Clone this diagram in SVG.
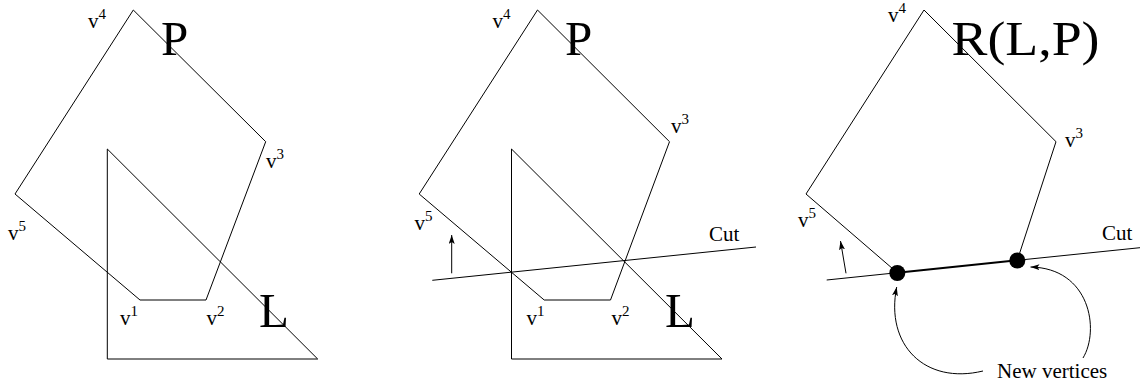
<svg xmlns="http://www.w3.org/2000/svg" width="1140" height="384" viewBox="0 0 1140 384">
<style>
.ln{fill:none;stroke:#000;stroke-width:1}
.t{font-family:"Liberation Serif","Times New Roman",serif;fill:#000}
.vl{font-size:21px}
.sup{font-size:15px}
.big{font-size:49px}
.cut{font-size:21px}
</style>
<defs>
<marker id="ah" markerUnits="userSpaceOnUse" markerWidth="10" markerHeight="8" refX="9" refY="3" orient="auto">
<path d="M0,0 L9,3 L0,6 L2,3 Z" fill="#000"/>
</marker>
</defs>
<rect width="1140" height="384" fill="#fff"/>

<g id="panel1">
<g id="P1"><polygon class="ln" points="133.3,10 265.7,141.7 206,300 140,300 15,194"/></g>
<g id="L1"><polygon class="ln" points="107.3,149 107.3,359 317.7,359"/></g>
<text class="t big" x="161" y="55">P</text>
<text class="t big" x="259" y="327">L</text>
<text class="t vl" x="88" y="28">v<tspan class="sup" dy="-9">4</tspan></text>
<text class="t vl" x="266" y="168">v<tspan class="sup" dy="-9">3</tspan></text>
<text class="t vl" x="8" y="240">v<tspan class="sup" dy="-9">5</tspan></text>
<text class="t vl" x="120" y="325">v<tspan class="sup" dy="-9">1</tspan></text>
<text class="t vl" x="206.5" y="325">v<tspan class="sup" dy="-9">2</tspan></text>
</g>

<g id="panel2">
<g id="P2"><polygon class="ln" points="537.5,10 669.5,141.7 610.5,300 544.2,300 419.2,194"/></g>
<g id="L2"><polygon class="ln" points="511.5,149 511.5,359 722,359"/></g>
<text class="t big" x="565" y="55">P</text>
<text class="t big" x="665" y="327">L</text>
<text class="t vl" x="492.5" y="28">v<tspan class="sup" dy="-9">4</tspan></text>
<text class="t vl" x="671" y="133">v<tspan class="sup" dy="-9">3</tspan></text>
<text class="t vl" x="414.5" y="230">v<tspan class="sup" dy="-9">5</tspan></text>
<text class="t vl" x="526.5" y="325">v<tspan class="sup" dy="-9">1</tspan></text>
<text class="t vl" x="611.5" y="325">v<tspan class="sup" dy="-9">2</tspan></text>
<text class="t cut" x="709" y="240.5">Cut</text>
</g>

<g id="panel3">
<g id="R3"><polyline class="ln" points="897.3,272.7 806,194 924,10 1056,141.7 1017.3,260.3"/></g>
<g id="nv1"><circle cx="897.3" cy="273" r="8" fill="#000"/></g>
<g id="nv2"><circle cx="1017.3" cy="260.5" r="8" fill="#000"/></g>
<text class="t big" x="951.5" y="55" textLength="148" lengthAdjust="spacingAndGlyphs">R(L,P)</text>
<text class="t vl" x="888" y="21.5">v<tspan class="sup" dy="-9">4</tspan></text>
<text class="t vl" x="1065" y="146.5">v<tspan class="sup" dy="-9">3</tspan></text>
<text class="t vl" x="798" y="226.5">v<tspan class="sup" dy="-9">5</tspan></text>
<text class="t cut" x="1102" y="240">Cut</text>
<text class="t cut" x="997" y="378">New vertices</text>
</g>

<g id="connectors">
<line class="ln" x1="432.3" y1="280.3" x2="756" y2="247"/>
<line class="ln" x1="451.7" y1="273.3" x2="451.7" y2="235" marker-end="url(#ah)"/>
<line class="ln" x1="826.7" y1="280" x2="897.3" y2="272.7"/>
<line x1="897.3" y1="272.7" x2="1017.3" y2="260.3" stroke="#000" stroke-width="2"/>
<line class="ln" x1="1017.3" y1="260.3" x2="1140" y2="247.7"/>
<line class="ln" x1="846" y1="273.3" x2="840.5" y2="241" marker-end="url(#ah)"/>
<path class="ln" d="M983,371 C925,385 885,345 896.7,287" marker-end="url(#ah)"/>
<path class="ln" d="M1083,358 C1100,330 1090,268 1030.5,267" marker-end="url(#ah)"/>
</g>
</svg>
